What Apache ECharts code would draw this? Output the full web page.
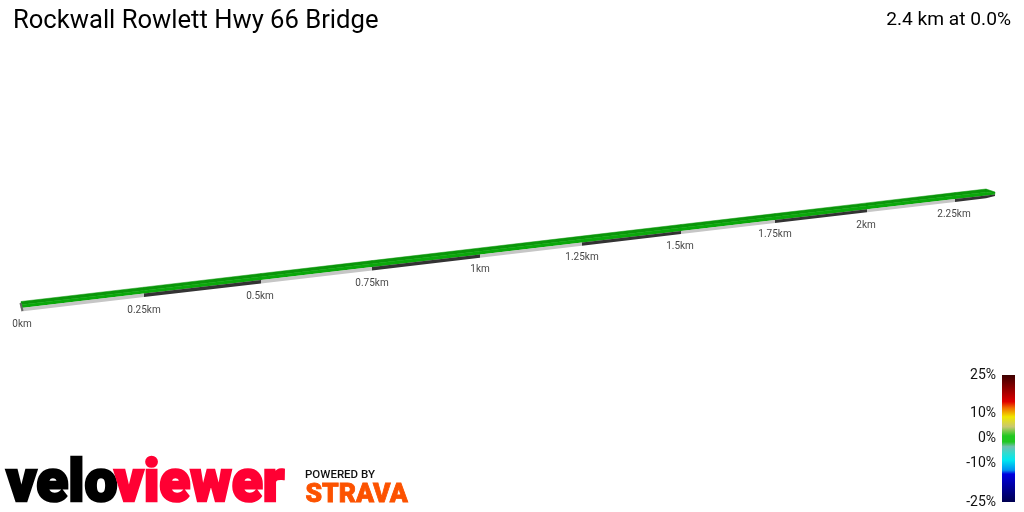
<!DOCTYPE html>
<html>
<head>
<meta charset="utf-8">
<title>Rockwall Rowlett Hwy 66 Bridge</title>
<script src="https://cdn.jsdelivr.net/npm/echarts@6/dist/echarts.min.js"></script>
<style>
html, body { margin: 0; padding: 0; background: #fff; }
#chart { width: 1024px; height: 512px; }
</style>
</head>
<body>
<div id="chart"></div>
<script>
// route markers in view units (perspective already applied)
var kmLabels = ['0km', '0.25km', '0.5km', '0.75km', '1km', '1.25km', '1.5km', '1.75km', '2km', '2.25km'];
var viewX = [21, 144, 261, 372, 480, 582, 681, 775, 867, 955, 986, 995];
var topEdge = [301.5, 287.2, 273.5, 260.6, 248, 236.1, 224.5, 213.6, 202.9, 192.6, 189, 192];
var midEdge = [308, 293.6, 280, 267, 254.4, 242.5, 231, 220, 209.3, 199, 195.4, 194.5];
var lowEdge = [311.5, 297, 283.4, 270.4, 257.7, 245.7, 234.1, 223.1, 212.3, 202, 198.3, 196];
var darkSide = [0, 1, 0, 1, 0, 1, 0, 1, 0, 1, 1];
var labelX = [22, 144, 260, 372, 480, 582, 680, 775, 866, 954];
var labelY = [324, 310, 296, 283, 269, 257, 246, 234, 225, 214];
var capX = [20.5, 22.5];
var capY = [303, 311];

// gradient scale
var scaleTicks = [25, 10, 0, -10, -25];
var scaleStops = [25, 20, 14.5, 12, 8.5, 4.6, 1, -1.3, -3.2, -5.8, -8.5, -12.5, -14, -20, -25];
var scaleColors = ['#3d0000', '#8a0000', '#e00000', '#f07000', '#f0e800', '#c8c870', '#20c820', '#20c820',
    '#70c0b0', '#30dcd0', '#00e8f0', '#0090f0', '#0000e0', '#000090', '#000050'];

var greenTop = '#0a960a';
var greenLow = '#0aa80a';
var side = '#c6c6c6';
var dark = '#333333';

function renderRibbon(params, api) {
    var i = params.dataIndex;
    var a = api.value(0), b = api.value(1);
    var t0 = api.coord([a, api.value(2)]), t1 = api.coord([b, api.value(3)]);
    var m0 = api.coord([a, api.value(4)]), m1 = api.coord([b, api.value(5)]);
    var l0 = api.coord([a, api.value(6)]), l1 = api.coord([b, api.value(7)]);
    var s0 = [t0[0], (t0[1] + m0[1]) / 2], s1 = [t1[0], (t1[1] + m1[1]) / 2];
    return {
        type: 'group',
        children: [{
            type: 'polygon',
            shape: { points: [t0, t1, s1, s0] },
            style: { fill: greenTop, stroke: greenTop, lineWidth: 0.5 }
        }, {
            type: 'polygon',
            shape: { points: [s0, s1, m1, m0] },
            style: { fill: greenLow, stroke: greenLow, lineWidth: 0.3 }
        }, {
            type: 'polygon',
            shape: { points: [m0, m1, l1, l0] },
            style: { fill: darkSide[i] ? dark : side }
        }]
    };
}

function renderScale(params, api) {
    var top = api.coord([0, api.value(1)]);
    var bottom = api.coord([0, api.value(0)]);
    var size = api.size([1, 0]);
    var stops = [];
    for (var i = 0; i < scaleStops.length; i++) {
        stops.push({ offset: (25 - scaleStops[i]) / 50, color: scaleColors[i] });
    }
    return {
        type: 'rect',
        shape: { x: top[0] - size[0] / 2, y: top[1], width: size[0], height: bottom[1] - top[1] },
        style: { fill: new echarts.graphic.LinearGradient(0, 0, 0, 1, stops) }
    };
}

var segments = [];
for (var i = 0; i < viewX.length - 1; i++) {
    segments.push([viewX[i], viewX[i + 1], topEdge[i], topEdge[i + 1], midEdge[i], midEdge[i + 1], lowEdge[i], lowEdge[i + 1]]);
}
var labelPoints = [];
for (var j = 0; j < labelX.length; j++) {
    labelPoints.push({ value: [labelX[j], labelY[j]], name: kmLabels[j] });
}

var chart = echarts.init(document.getElementById('chart'), null, { renderer: 'canvas' });
chart.setOption({
    animation: false,
    backgroundColor: '#ffffff',
    textStyle: { fontFamily: 'Roboto' },
    title: [{
        text: 'Rockwall Rowlett Hwy 66 Bridge',
        left: 13,
        top: 9,
        padding: 0,
        textStyle: { fontFamily: 'Roboto', fontSize: 25.6, fontWeight: 'normal', color: '#000' }
    }, {
        text: '2.4 km at 0.0%',
        right: 13,
        top: 11,
        padding: 0,
        textStyle: { fontFamily: 'Roboto', fontSize: 19.2, fontWeight: 'normal', color: '#000' }
    }],
    grid: [
        { left: 0, right: 0, top: 0, bottom: 0 },
        { left: 1002, width: 13, top: 375, height: 127 }
    ],
    xAxis: [
        { gridIndex: 0, type: 'value', min: 0, max: 1024, show: false },
        { gridIndex: 1, type: 'category', data: [''], show: false, boundaryGap: true }
    ],
    yAxis: [
        { gridIndex: 0, type: 'value', min: 0, max: 512, inverse: true, show: false },
        {
            gridIndex: 1,
            type: 'value',
            min: -25,
            max: 25,
            axisLine: { show: false },
            axisTick: { show: false },
            splitLine: { show: false },
            axisLabel: {
                customValues: scaleTicks,
                formatter: '{value}%',
                fontFamily: 'Roboto',
                fontSize: 14,
                color: '#111',
                margin: 6,
                padding: [2, 0, 0, 0]
            }
        }
    ],
    series: [{
        type: 'custom',
        xAxisIndex: 0,
        yAxisIndex: 0,
        renderItem: renderRibbon,
        encode: { x: [0, 1], y: [2, 3, 4, 5, 6, 7] },
        data: segments,
        silent: true
    }, {
        type: 'line',
        xAxisIndex: 0,
        yAxisIndex: 0,
        showSymbol: false,
        silent: true,
        lineStyle: { color: '#666666', width: 2 },
        data: [[capX[0], capY[0]], [capX[1], capY[1]]]
    }, {
        type: 'scatter',
        xAxisIndex: 0,
        yAxisIndex: 0,
        symbolSize: 0,
        silent: true,
        data: labelPoints,
        label: {
            show: true,
            position: 'inside',
            formatter: '{b}',
            fontFamily: 'Roboto',
            fontSize: 10,
            color: '#111'
        }
    }, {
        type: 'custom',
        xAxisIndex: 1,
        yAxisIndex: 1,
        renderItem: renderScale,
        encode: { y: [0, 1] },
        data: [[-25, 25]],
        silent: true
    }],
    graphic: [{
        type: 'text',
        left: 5,
        top: 455,
        scaleX: 0.98,
        style: { text: 'velo', fontFamily: 'Roboto', fontWeight: 900, fontSize: 60, fill: '#000', stroke: '#000', lineWidth: 2.5 }
    }, {
        type: 'text',
        left: 113,
        top: 455,
        scaleX: 0.95,
        style: { text: 'viewer', fontFamily: 'Roboto', fontWeight: 900, fontSize: 60, fill: '#ff0033', stroke: '#ff0033', lineWidth: 2.5 }
    }, {
        type: 'text',
        left: 305,
        top: 470,
        scaleX: 1.15,
        style: { text: 'POWERED BY', fontFamily: 'Roboto', fontWeight: 500, fontSize: 10, fill: '#111' }
    }, {
        type: 'text',
        left: 305,
        top: 482,
        scaleX: 1.02,
        style: { text: 'STRAVA', fontFamily: 'Roboto', fontWeight: 900, fontSize: 26, fill: '#fc5200', stroke: '#fc5200', lineWidth: 0.8 }
    }]
});
</script>
</body>
</html>
